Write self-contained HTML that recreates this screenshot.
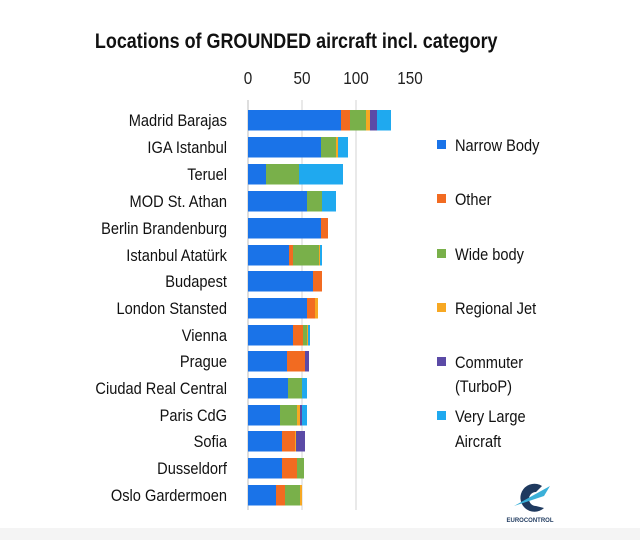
<!DOCTYPE html>
<html><head><meta charset="utf-8"><style>body{margin:0;background:#fff}svg{display:block}</style></head>
<body>
<svg width="640" height="540" xmlns="http://www.w3.org/2000/svg" font-family="Liberation Sans, sans-serif">
<rect width="640" height="540" fill="#fff"/>
<rect x="0" y="528" width="640" height="12" fill="#f4f4f4"/>
<g transform="scale(0.855,1)">
<text x="111" y="48" font-size="21" font-weight="bold" fill="#111">Locations of GROUNDED aircraft incl. category</text>
</g>
<g font-size="18" fill="#222" text-anchor="middle" transform="scale(0.85,1)">
<text x="291.8" y="84">0</text><text x="355.3" y="84">50</text><text x="418.8" y="84">100</text><text x="482.4" y="84">150</text>
</g>
<line x1="302" y1="100" x2="302" y2="510" stroke="#ddd" stroke-width="1.3"/>
<line x1="356" y1="100" x2="356" y2="510" stroke="#ddd" stroke-width="1.3"/>
<line x1="248" y1="100" x2="248" y2="510" stroke="#ccc" stroke-width="1.3"/>
<g id="bars"></g>
<g font-size="17" fill="#111" text-anchor="end" transform="scale(0.86,1)" id="labels"></g>
<g font-size="17" fill="#111" transform="scale(0.86,1)">
<text x="529" y="151">Narrow Body</text>
<text x="529" y="205">Other</text>
<text x="529" y="260">Wide body</text>
<text x="529" y="314">Regional Jet</text>
<text x="529" y="368">Commuter</text>
<text x="529" y="392">(TurboP)</text>
<text x="529" y="422">Very Large</text>
<text x="529" y="447">Aircraft</text>
</g>
<rect x="437" y="140" width="9" height="9" fill="#1a73e8"/>
<rect x="437" y="194" width="9" height="9" fill="#f26b21"/>
<rect x="437" y="249" width="9" height="9" fill="#79b04a"/>
<rect x="437" y="303" width="9" height="9" fill="#f7a823"/>
<rect x="437" y="357" width="9" height="9" fill="#5b4aa6"/>
<rect x="437" y="411" width="9" height="9" fill="#1fa9ef"/>
<g transform="translate(530,500)">
<path d="M12,-14 A14,14 0 1 0 14,8 L6,6 A7,7 0 1 1 6,-8 Z" fill="#1f3a5f"/>
<path d="M-16,6 L20,-14 L14,-4 Z" fill="#3bb0d8"/>
<text x="0" y="22" font-size="6" font-weight="bold" text-anchor="middle" fill="#1f3a5f">EUROCONTROL</text>
</g>
<script>
var C={b:"#1a73e8",o:"#f26b21",g:"#79b04a",y:"#f7a823",p:"#5b4aa6",l:"#1fa9ef"};
var rows=[
["Madrid Barajas",110,[["b",341],["o",350],["g",366],["y",370],["p",377],["l",391]]],
["IGA Istanbul",137,[["b",321],["g",336],["y",338],["l",348]]],
["Teruel",164,[["b",266],["g",299],["l",343]]],
["MOD St. Athan",191,[["b",307],["g",322],["l",336]]],
["Berlin Brandenburg",218,[["b",321],["o",328]]],
["Istanbul Atatürk",245,[["b",289],["o",293],["g",319],["y",320],["l",322]]],
["Budapest",271,[["b",313],["o",322]]],
["London Stansted",298,[["b",307],["o",315],["y",318]]],
["Vienna",325,[["b",293],["o",303],["g",307],["y",308],["l",310]]],
["Prague",351,[["b",287],["o",305],["p",309]]],
["Ciudad Real Central",378,[["b",288],["g",302],["l",307]]],
["Paris CdG",405,[["b",280],["g",297],["y",300],["p",302],["l",307]]],
["Sofia",431,[["b",282],["o",295],["y",296],["p",305]]],
["Dusseldorf",458,[["b",282],["o",297],["g",304]]],
["Oslo Gardermoen",485,[["b",276],["o",285],["g",300],["y",302]]]];
var ns="http://www.w3.org/2000/svg",B=document.getElementById("bars"),L=document.getElementById("labels");
rows.forEach(function(r){var x=248;r[2].forEach(function(s){var e=document.createElementNS(ns,"rect");e.setAttribute("x",x);e.setAttribute("y",r[1]);e.setAttribute("width",s[1]-x);e.setAttribute("height",20.5);e.setAttribute("fill",C[s[0]]);B.appendChild(e);x=s[1];});
var t=document.createElementNS(ns,"text");t.setAttribute("x",227/0.86);t.setAttribute("y",r[1]+16);t.textContent=r[0];L.appendChild(t);});
</script>
</svg>
</body></html>
